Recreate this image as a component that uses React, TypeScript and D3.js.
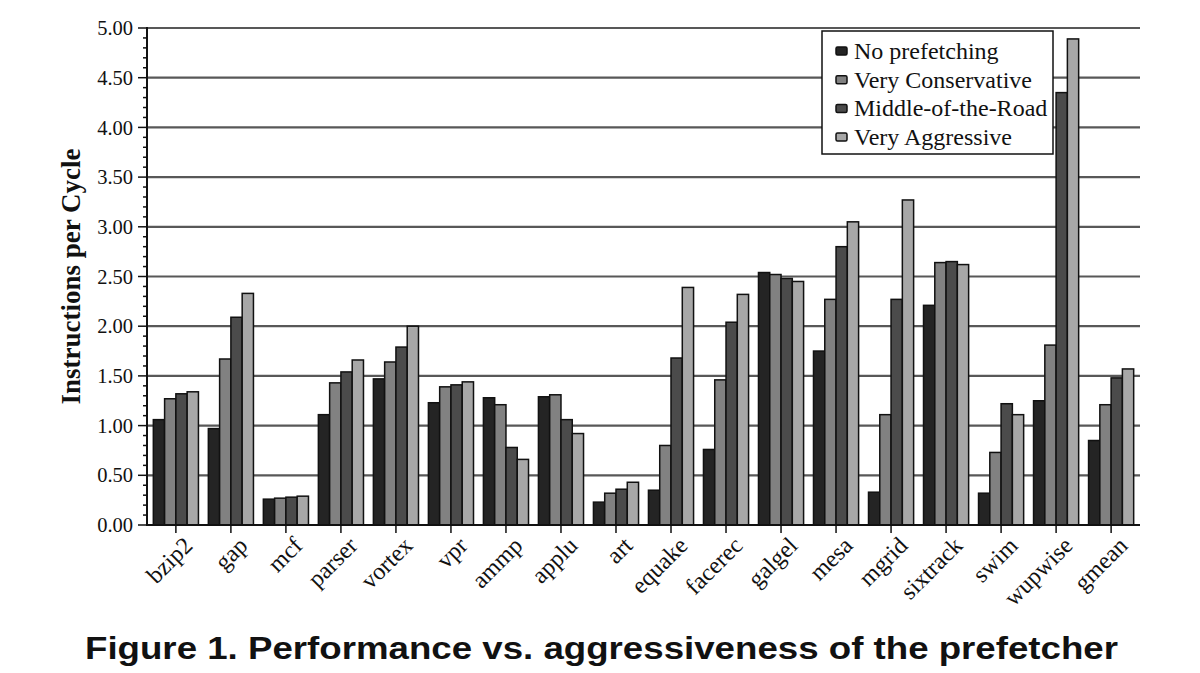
import * as d3 from "d3";

const benchmarks = [
  "bzip2", "gap", "mcf", "parser", "vortex", "vpr", "ammp", "applu", "art",
  "equake", "facerec", "galgel", "mesa", "mgrid", "sixtrack", "swim", "wupwise", "gmean",
];

const seriesNames = ["No prefetching", "Very Conservative", "Middle-of-the-Road", "Very Aggressive"];

const noPrefetch = [1.06, 0.97, 0.26, 1.11, 1.47, 1.23, 1.28, 1.29, 0.23, 0.35, 0.76, 2.54, 1.75, 0.33, 2.21, 0.32, 1.25, 0.85];
const veryConservative = [1.27, 1.67, 0.27, 1.43, 1.64, 1.39, 1.21, 1.31, 0.32, 0.80, 1.46, 2.52, 2.27, 1.11, 2.64, 0.73, 1.81, 1.21];
const middleOfRoad = [1.32, 2.09, 0.28, 1.54, 1.79, 1.41, 0.78, 1.06, 0.36, 1.68, 2.04, 2.48, 2.80, 2.27, 2.65, 1.22, 4.35, 1.48];
const veryAggressive = [1.34, 2.33, 0.29, 1.66, 2.00, 1.44, 0.66, 0.92, 0.43, 2.39, 2.32, 2.45, 3.05, 3.27, 2.62, 1.11, 4.89, 1.57];

const seriesValues = [noPrefetch, veryConservative, middleOfRoad, veryAggressive];
const seriesColors = ["#242424", "#818181", "#4b4b4b", "#a7a7a7"];

const yTicks = [0, 0.5, 1, 1.5, 2, 2.5, 3, 3.5, 4, 4.5, 5];

const W = 1200;
const H = 673;
const left = 147;
const right = 1140;
const top = 28;
const bottom = 525;

export default function App() {
  const x = d3.scaleBand<string>().domain(benchmarks).range([left, right]).paddingInner(0.18).paddingOuter(0.115);
  const xs = d3.scaleBand<string>().domain(seriesNames).range([0, x.bandwidth()]);
  const y = d3.scaleLinear().domain([0, 5]).range([bottom, top]);
  const minor = d3.range(0, 50).map((i) => i / 10).filter((v) => Math.round(v * 10) % 5 !== 0);

  const serif = "'Liberation Serif', 'DejaVu Serif', serif";

  return (
    <svg width={W} height={H} style={{ position: "absolute", left: 0, top: 0, background: "#fff" }}>
      {/* grid */}
      {yTicks.slice(1).map((t) => (
        <line key={t} x1={left} x2={right} y1={y(t)} y2={y(t)} stroke="#585858" strokeWidth={2.2} />
      ))}

      {/* bars */}
      {benchmarks.map((b, i) => (
        <g key={b} transform={`translate(${x(b)},0)`}>
          {seriesNames.map((s, k) => (
            <rect
              key={s}
              x={xs(s)}
              y={y(seriesValues[k][i])}
              width={xs.bandwidth()}
              height={bottom - y(seriesValues[k][i])}
              fill={seriesColors[k]}
              stroke="#111"
              strokeWidth={1.5}
            />
          ))}
        </g>
      ))}

      {/* y axis */}
      <line x1={left} x2={left} y1={top - 1} y2={bottom + 1} stroke="#111" strokeWidth={2} />
      {minor.map((v) => (
        <line key={v} x1={left - 4} x2={left} y1={y(v)} y2={y(v)} stroke="#111" strokeWidth={1.5} />
      ))}
      {yTicks.map((t) => (
        <g key={t}>
          <line x1={left - 9} x2={left} y1={y(t)} y2={y(t)} stroke="#111" strokeWidth={1.5} />
          <text x={left - 14} y={y(t)} dy="0.35em" textAnchor="end" fontFamily={serif} fontSize={20.5} fill="#111">
            {d3.format(".2f")(t)}
          </text>
        </g>
      ))}
      <text
        transform={`translate(80,${(top + bottom) / 2}) rotate(-90)`}
        textAnchor="middle"
        fontFamily={serif}
        fontWeight="bold"
        fontSize={27}
        fill="#111"
      >
        Instructions per Cycle
      </text>

      {/* x axis */}
      <line x1={left} x2={right} y1={bottom} y2={bottom} stroke="#111" strokeWidth={2} />
      {benchmarks.map((b) => {
        const cx = (x(b) as number) + x.bandwidth() / 2;
        return (
          <g key={b}>
            <line x1={cx} x2={cx} y1={bottom} y2={bottom + 8} stroke="#111" strokeWidth={1.5} />
            <text
              transform={`translate(${cx + 18},${bottom + 22}) rotate(-45)`}
              textAnchor="end"
              fontFamily={serif}
              fontSize={24}
              fill="#111"
            >
              {b}
            </text>
          </g>
        );
      })}

      {/* legend */}
      <rect x={822} y={31} width={231} height={123} fill="#fff" stroke="#111" strokeWidth={1.5} />
      {seriesNames.map((s, k) => (
        <g key={s} transform={`translate(836,${51 + k * 28.7})`}>
          <rect x={0} y={-4} width={11} height={8} rx={1.5} fill={seriesColors[k]} stroke="#111" strokeWidth={1.5} />
          <text x={18} y={0} dy="0.33em" fontFamily={serif} fontSize={24} fill="#111">
            {s}
          </text>
        </g>
      ))}

      {/* caption */}
      <text
        x={601.5}
        y={659}
        textAnchor="middle"
        fontFamily="'Liberation Sans', Arial, sans-serif"
        fontWeight="bold"
        fontSize={32}
        textLength={1033}
        lengthAdjust="spacingAndGlyphs"
        fill="#111"
      >
        Figure 1. Performance vs. aggressiveness of the prefetcher
      </text>
    </svg>
  );
}
